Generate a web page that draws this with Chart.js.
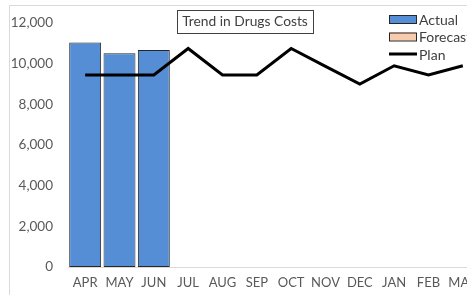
<!DOCTYPE html>
<html><head><meta charset="utf-8">
<script src="https://cdn.jsdelivr.net/npm/chart.js@4/dist/chart.umd.min.js"></script>
<style>
html,body{margin:0;padding:0;background:#fff;overflow:hidden;width:467px;height:295px;}
#wrap{position:absolute;left:0;top:0;width:492px;height:300px;}
</style></head>
<body>
<div id="wrap"><canvas id="c" width="492" height="300"></canvas></div>
<script>
const categories = ["APR","MAY","JUN","JUL","AUG","SEP","OCT","NOV","DEC","JAN","FEB","MAR"];
const actual   = [11050, 10520, 10680, null, null, null, null, null, null, null, null, null];
const forecast = [];
const plan     = [9450, 9450, 9450, 10750, 9450, 9450, 10750, 9870, 9000, 9900, 9450, 9900];
const yTicks   = [0, 2000, 4000, 6000, 8000, 10000, 12000];
const titleText = "Trend in Drugs Costs";

const FONT = "Lato, 'Liberation Sans', sans-serif";

const borderPlugin = {
  id: 'frame',
  beforeDraw(chart) {
    const ctx = chart.ctx;
    ctx.save();
    ctx.strokeStyle = '#d9d9d9';
    ctx.lineWidth = 1;
    ctx.beginPath();
    ctx.moveTo(9.5, 400);
    ctx.lineTo(9.5, 5.5);
    ctx.lineTo(600, 5.5);
    ctx.stroke();
    ctx.restore();
  },
  afterDraw(chart) {
    const ctx = chart.ctx;
    ctx.save();
    // title box
    ctx.font = "13.8px " + FONT;
    const cx = 245, cy = 21;
    const bw = 136, bh = 23;
    ctx.fillStyle = '#fff';
    ctx.fillRect(cx - bw/2, cy - bh/2, bw, bh);
    ctx.strokeStyle = '#404040';
    ctx.lineWidth = 1;
    ctx.strokeRect(Math.round(cx - bw/2) + 0.5, Math.round(cy - bh/2) + 0.5, bw, bh);
    ctx.fillStyle = '#404040';
    ctx.textAlign = 'center';
    ctx.textBaseline = 'middle';
    ctx.fillText(titleText, cx, cy + 1);
    // legend
    const ds = chart.data.datasets;
    const lx = 389, rows = [19, 36.5, 54];
    ctx.textAlign = 'left';
    ctx.font = "14px " + FONT;
    ds.forEach((d, i) => {
      const y = rows[i];
      if (d.type === 'line') {
        ctx.strokeStyle = d.borderColor;
        ctx.lineWidth = 3;
        ctx.beginPath();
        ctx.moveTo(lx, y);
        ctx.lineTo(lx + 28, y);
        ctx.stroke();
      } else {
        ctx.fillStyle = d.backgroundColor;
        ctx.fillRect(lx, y - 4, 27, 8);
        ctx.strokeStyle = '#262626';
        ctx.lineWidth = 1;
        ctx.strokeRect(lx + 0.5, y - 4 + 0.5, 27, 8);
      }
      ctx.fillStyle = '#404040';
      ctx.fillText(d.label, lx + 30, y + 1);
    });
    ctx.restore();
  }
};

new Chart(document.getElementById('c'), {
  data: {
    labels: categories,
    datasets: [
      { type: 'bar', label: 'Actual', data: actual, backgroundColor: '#558ED5', borderColor: '#262626', borderWidth: 1, borderSkipped: false, grouped: false, barPercentage: 0.93, categoryPercentage: 1, order: 2 },
      { type: 'bar', label: 'Forecast', data: forecast, backgroundColor: '#F8CBAD', borderColor: '#262626', borderWidth: 1, borderSkipped: false, grouped: false, barPercentage: 0.93, categoryPercentage: 1, order: 3 },
      { type: 'line', label: 'Plan', data: plan, borderColor: '#000000', backgroundColor: '#000000', borderWidth: 3, pointRadius: 0, tension: 0, order: 1 }
    ]
  },
  options: {
    responsive: false,
    animation: false,
    layout: { padding: { left: 9, top: 21, right: 12, bottom: 0 } },
    plugins: { legend: { display: false }, title: { display: false }, tooltip: { enabled: false } },
    scales: {
      x: {
        grid: { display: false, drawTicks: false },
        border: { display: true, color: '#d9d9d9', width: 1 },
        ticks: { color: '#595959', font: { family: FONT, size: 13 }, padding: 8, maxRotation: 0, autoSkip: false },
        afterFit(s) { s.height = 33; }
      },
      y: {
        min: 0, max: 12000,
        afterBuildTicks(s) { s.ticks = yTicks.map(v => ({ value: v })); },
        grid: { display: false, drawTicks: false },
        border: { display: false },
        ticks: { color: '#595959', font: { family: FONT, size: 13.5 }, padding: 15,
          callback: v => v.toLocaleString('en-US') },
        afterFit(s) { s.width = 59; }
      }
    }
  },
  plugins: [borderPlugin]
});
</script>
</body></html>
